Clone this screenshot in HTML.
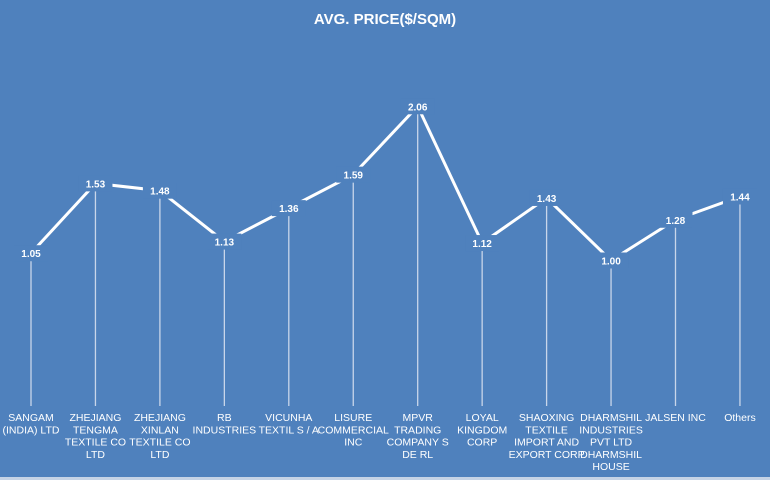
<!DOCTYPE html>
<html><head><meta charset="utf-8"><style>
html,body{margin:0;padding:0;background:#4f81bd;}
svg{display:block;font-family:"Liberation Sans",sans-serif;}
</style></head><body>
<svg id="chart" width="770" height="480" viewBox="0 0 770 480">
<rect x="0" y="0" width="770" height="480" fill="#4f81bd"/>
<rect x="0" y="477" width="770" height="3" fill="#c5d3e6"/>
<text x="385" y="24" text-anchor="middle" fill="#fff" font-size="15" font-weight="bold">AVG. PRICE($/SQM)</text>
<g id="drops"></g><g id="series"></g><g id="labels"></g><g id="cats"></g>
</svg>
<script>
const categories = [["SANGAM","(INDIA) LTD"],["ZHEJIANG","TENGMA","TEXTILE  CO","LTD"],["ZHEJIANG","XINLAN","TEXTILE  CO","LTD"],["RB","INDUSTRIES"],["VICUNHA","TEXTIL S / A"],["LISURE","COMMERCIAL","INC"],["MPVR","TRADING","COMPANY  S","DE RL"],["LOYAL","KINGDOM","CORP"],["SHAOXING","TEXTILE","IMPORT AND","EXPORT CORP"],["DHARMSHIL","INDUSTRIES","PVT LTD","DHARMSHIL","HOUSE"],["JALSEN  INC"],["Others"]];
const values = [1.05,1.53,1.48,1.13,1.36,1.59,2.06,1.12,1.43,1.00,1.28,1.44];
const valueLabels = ["1.05","1.53","1.48","1.13","1.36","1.59","2.06","1.12","1.43","1.00","1.28","1.44"];
const NS="http://www.w3.org/2000/svg";
const x0=31, step=64.45, yBase=406, pxPerUnit=145.5;
const xs=i=>x0+i*step;
const ys=v=>yBase-v*pxPerUnit;
function mk(t,a,p){const e=document.createElementNS(NS,t);for(const k in a)e.setAttribute(k,a[k]);p.appendChild(e);return e;}
const drops=document.getElementById('drops'),series=document.getElementById('series'),labels=document.getElementById('labels'),cats=document.getElementById('cats');
values.forEach((v,i)=>{
  const d=mk('line',{x1:xs(i),x2:xs(i),y1:ys(v),y2:yBase,stroke:'#c9d6ea','stroke-width':1.3},drops);
  
  
});
const pts=values.map((v,i)=>xs(i)+','+ys(v)).join(' ');
const pl=mk('polyline',{points:pts,fill:'none',stroke:'#fff','stroke-width':3,'stroke-linejoin':'round'},series);


values.forEach((v,i)=>{
  const bg=mk('rect',{x:xs(i)-17,y:ys(v)-8,width:34,height:16,fill:'#4f81bd'},labels);
  
  
  const t=mk('text',{x:xs(i),y:ys(v)+4,'text-anchor':'middle',fill:'#fff','font-size':10,'font-weight':'bold'},labels);
  t.textContent=valueLabels[i];
  
  
});
categories.forEach((c,i)=>{
  const t=mk('text',{'text-anchor':'middle',fill:'#fff','font-size':10.5},cats);
  
  
  c.forEach((ln,j)=>{const s=mk('tspan',{x:xs(i),y:421+j*12.3},t);s.textContent=ln;});
});
</script>
</body></html>
